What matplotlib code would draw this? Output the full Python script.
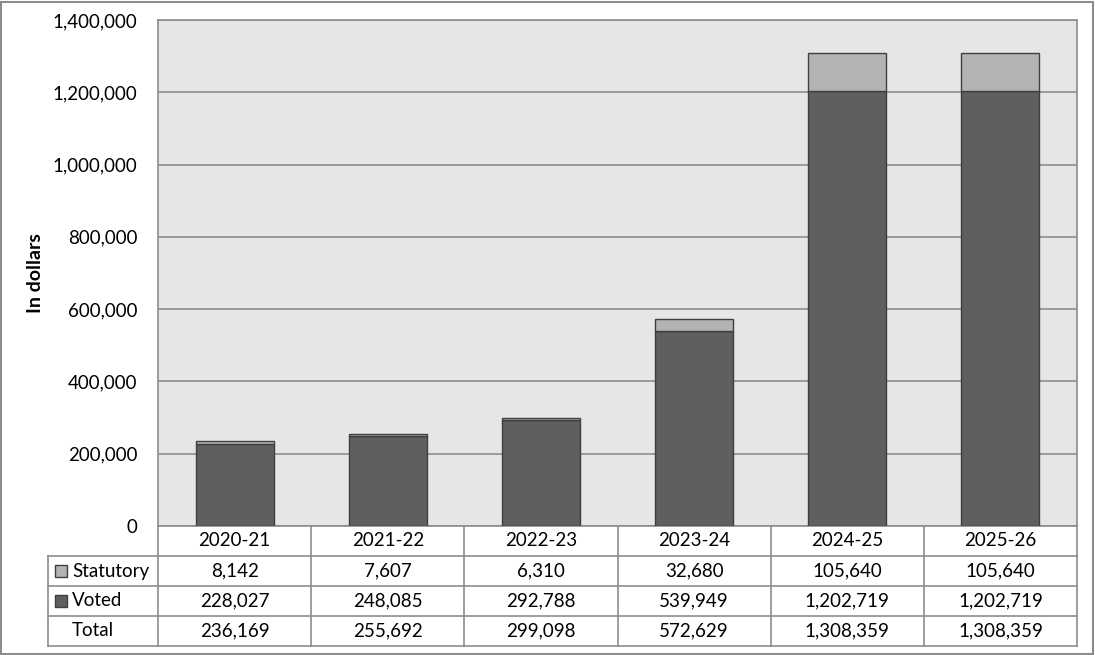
import matplotlib.pyplot as plt
from matplotlib.patches import Rectangle

years = ['2020-21', '2021-22', '2022-23', '2023-24', '2024-25', '2025-26']
statutory = [8142, 7607, 6310, 32680, 105640, 105640]
voted = [228027, 248085, 292788, 539949, 1202719, 1202719]
totals = [236169, 255692, 299098, 572629, 1308359, 1308359]

c_voted = '#5f5f5f'
c_stat = '#b3b3b3'
c_edge = '#3f3f3f'
c_line = '#8c8c8c'

plt.rcParams['font.family'] = ['Lato', 'DejaVu Sans']
fs = 13.5

W, H = 1095, 655
fig = plt.figure(figsize=(W / 100, H / 100), dpi=100)

def fbox(x0, y0, x1, y1):
    return [x0 / W, 1 - y1 / H, (x1 - x0) / W, (y1 - y0) / H]

# bars
ax = fig.add_axes(fbox(158, 20, 1077, 526))
ax.set_facecolor('#e6e6e6')
x = list(range(len(years)))
ax.bar(x, voted, width=0.51, color=c_voted, edgecolor=c_edge, linewidth=1, zorder=3)
ax.bar(x, statutory, bottom=voted, width=0.51, color=c_stat, edgecolor=c_edge, linewidth=1, zorder=3)
ax.set_xlim(-0.5, len(years) - 0.5)
ax.set_ylim(0, 1400000)
ax.set_yticks(range(0, 1400001, 200000))
ax.set_yticklabels(['{:,}'.format(v) for v in range(0, 1400001, 200000)], fontsize=fs)
ax.tick_params(axis='y', length=0, pad=15)
ax.set_xticks([])
ax.grid(axis='y', color=c_line, linewidth=1.2, zorder=1)
for s in ax.spines.values():
    s.set_color(c_line)
    s.set_linewidth(1.2)
ax.set_ylabel('In dollars', fontsize=14, fontweight='bold')
ax.yaxis.set_label_coords(-0.124, 0.5)

# data table under the chart
lw = 110 / 153
tx = fig.add_axes(fbox(48, 526, 1077, 646))
tx.set_xlim(-0.5 - lw, len(years) - 0.5)
tx.set_ylim(4, 0)
tx.axis('off')
for k in range(len(years) + 1):
    tx.plot([k - 0.5, k - 0.5], [0, 4], color=c_line, lw=1.2, clip_on=False)
tx.plot([-0.5 - lw, -0.5 - lw], [1, 4], color=c_line, lw=1.2, clip_on=False)
for r in [1, 2, 3, 4]:
    tx.plot([-0.5 - lw, len(years) - 0.5], [r, r], color=c_line, lw=1.2, clip_on=False)

rows = [statutory, voted, totals]
names = ['Statutory', 'Voted', 'Total']
swatch = [c_stat, c_voted, None]
for i, yr in enumerate(years):
    tx.text(i, 0.5, yr, ha='center', va='center', fontsize=fs)
    for r, vals in enumerate(rows):
        tx.text(i, r + 1.5, '{:,}'.format(vals[i]), ha='center', va='center', fontsize=fs)
x0 = -0.5 - lw
for r, nm in enumerate(names):
    tx.text(x0 + 24 / 153, r + 1.5, nm, ha='left', va='center', fontsize=fs)
    if swatch[r]:
        tx.add_patch(Rectangle((x0 + 7 / 153, r + 1.5 - 0.2), 12 / 153, 0.4,
                               facecolor=swatch[r], edgecolor=c_edge, lw=1, clip_on=False))

# outer border
fig.patches.append(Rectangle((1 / W, 1 / H), (W - 3) / W, (H - 3) / H, transform=fig.transFigure,
                             fill=False, edgecolor=c_line, lw=1.5))

fig.savefig('out.png', dpi=100, facecolor='white')
